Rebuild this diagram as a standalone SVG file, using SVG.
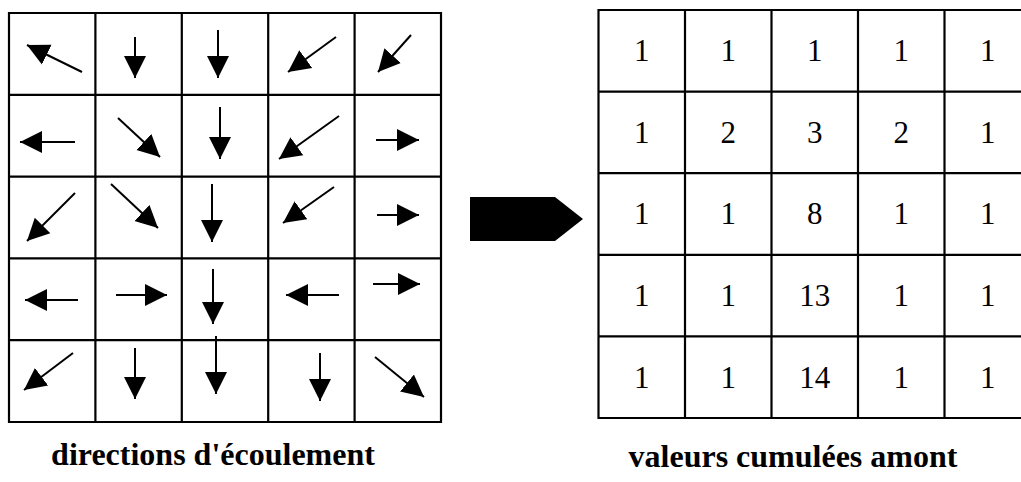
<svg xmlns="http://www.w3.org/2000/svg" width="1021" height="482" viewBox="0 0 1021 482">
<style>
.grid{fill:none;stroke:#000;stroke-width:2.2}
.arr{stroke:#000;stroke-width:2;fill:none;marker-end:url(#head)}
.num{font-size:31px;text-anchor:middle;fill:#000}
.lbl{font-size:32px;font-weight:bold;text-anchor:middle;fill:#000}
</style>
<defs>
<marker id="head" markerUnits="userSpaceOnUse" markerWidth="24" markerHeight="24" viewBox="0 -12 24 24" refX="22" refY="0" orient="auto">
<path d="M0,-11 L22,0 L0,11 z" fill="#000"/>
</marker>
</defs>
<rect width="1021" height="482" fill="#fff"/>
<g id="directions-grid">
<path class="grid" d="M9,13H441V422H9Z M95.4,13V422 M181.8,13V422 M268.2,13V422 M354.6,13V422 M9,94.8H441 M9,176.6H441 M9,258.4H441 M9,340.2H441"/>
</g>
<g id="connectors">
<line class="arr" x1="82" y1="72" x2="27" y2="45"/>
<line class="arr" x1="135" y1="37" x2="135" y2="78"/>
<line class="arr" x1="218" y1="30" x2="218" y2="78"/>
<line class="arr" x1="336" y1="37" x2="288" y2="72"/>
<line class="arr" x1="411" y1="35" x2="378" y2="72"/>
<line class="arr" x1="75" y1="142" x2="20" y2="142"/>
<line class="arr" x1="118" y1="118" x2="160" y2="157"/>
<line class="arr" x1="220" y1="107" x2="220" y2="159"/>
<line class="arr" x1="339" y1="116" x2="279" y2="159"/>
<line class="arr" x1="376" y1="140" x2="419" y2="140"/>
<line class="arr" x1="75" y1="193" x2="27" y2="241"/>
<line class="arr" x1="111" y1="184" x2="158" y2="228"/>
<line class="arr" x1="212" y1="184" x2="212" y2="242"/>
<line class="arr" x1="334" y1="187" x2="283" y2="223"/>
<line class="arr" x1="377" y1="215" x2="419" y2="215"/>
<line class="arr" x1="78" y1="300" x2="25" y2="300"/>
<line class="arr" x1="116" y1="295" x2="167" y2="295"/>
<line class="arr" x1="213" y1="269" x2="213" y2="324"/>
<line class="arr" x1="339" y1="295" x2="286" y2="295"/>
<line class="arr" x1="373" y1="284" x2="420" y2="284"/>
<line class="arr" x1="73" y1="353" x2="24" y2="390"/>
<line class="arr" x1="135" y1="348" x2="135" y2="399"/>
<line class="arr" x1="216" y1="336" x2="216" y2="394"/>
<line class="arr" x1="320" y1="353" x2="320" y2="401"/>
<line class="arr" x1="375" y1="357" x2="424" y2="397"/>
</g>
<g id="block-arrow">
<polygon points="470,197 555,197 583,219 555,241 470,241" fill="#000"/>
</g>
<g id="values-grid">
<path class="grid" d="M598.5,10H1031V418H598.5Z M685,10V418 M771.5,10V418 M858,10V418 M944.5,10V418 M598.5,91.6H1031 M598.5,173.2H1031 M598.5,254.8H1031 M598.5,336.4H1031"/>
<g class="num" font-family="'Liberation Serif', 'DejaVu Serif', serif">
<text x="641.8" y="61">1</text><text x="728.3" y="61">1</text><text x="814.8" y="61">1</text><text x="901.3" y="61">1</text><text x="987.8" y="61">1</text>
<text x="641.8" y="143">1</text><text x="728.3" y="143">2</text><text x="814.8" y="143">3</text><text x="901.3" y="143">2</text><text x="987.8" y="143">1</text>
<text x="641.8" y="224">1</text><text x="728.3" y="224">1</text><text x="814.8" y="224">8</text><text x="901.3" y="224">1</text><text x="987.8" y="224">1</text>
<text x="641.8" y="306">1</text><text x="728.3" y="306">1</text><text x="814.8" y="306">13</text><text x="901.3" y="306">1</text><text x="987.8" y="306">1</text>
<text x="641.8" y="388">1</text><text x="728.3" y="388">1</text><text x="814.8" y="388">14</text><text x="901.3" y="388">1</text><text x="987.8" y="388">1</text>
</g>
</g>
<g id="labels" font-family="'Liberation Serif', 'DejaVu Serif', serif">
<text class="lbl" x="213" y="465">directions d'écoulement</text>
<text class="lbl" x="793" y="467">valeurs cumulées amont</text>
</g>
</svg>
